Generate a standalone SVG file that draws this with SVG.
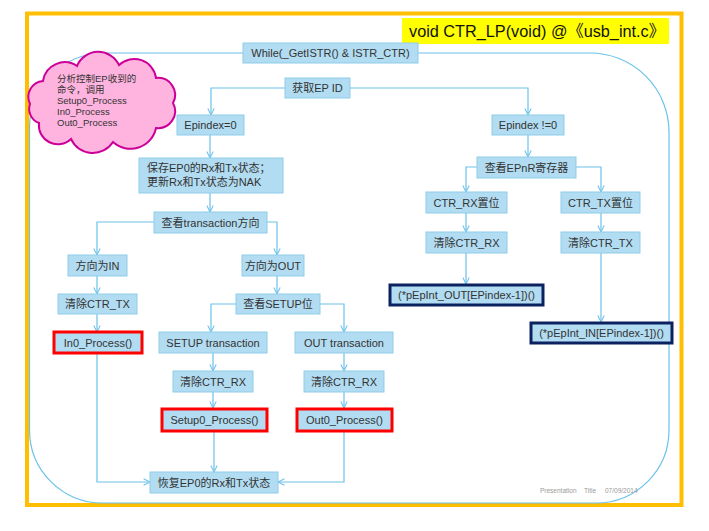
<svg xmlns="http://www.w3.org/2000/svg" width="709" height="531" viewBox="0 0 709 531">
<defs>
<marker id="ah" viewBox="0 0 10 10" refX="9" refY="5" markerWidth="8" markerHeight="8" orient="auto" markerUnits="userSpaceOnUse">
<path d="M1,1 L9,5 L1,9" fill="none" stroke="#6cc2ea" stroke-width="1.3"/>
</marker>
<style>
.b{fill:#b2dcf1;stroke:#8fcdea;stroke-width:1}
.r{fill:#b2dcf1;stroke:#ff0000;stroke-width:3}
.n{fill:#b2dcf1;stroke:#0c2160;stroke-width:3}
.t{font-family:"Liberation Sans","Noto Sans CJK SC",sans-serif;font-size:11px;fill:#333;text-anchor:middle}
.c{fill:none;stroke:#6cc2ea;stroke-width:1.2}
.a{marker-end:url(#ah)}
</style>
</defs>
<rect width="709" height="531" fill="#fff"/>
<rect x="27" y="13.5" width="654.5" height="491.5" fill="none" stroke="#ffbf00" stroke-width="4"/>
<g id="title">
<rect x="402" y="18" width="267" height="26" fill="#ffff00"/>
<text x="409" y="37" font-family="'Liberation Sans','Noto Sans CJK SC',sans-serif" font-size="16.5" fill="#111" textLength="256" lengthAdjust="spacingAndGlyphs">void CTR_LP(void) @《usb_int.c》</text>
</g>
<g id="connectors">
<path class="c" d="M243,53 H104 A75,75 0 0 0 29.5,128 V430 A73,73 0 0 0 102.5,503 H596 A73,73 0 0 0 669,430 V132 A79,79 0 0 0 590,53 H418"/>
<path class="c a" d="M285,88 H211 V115"/>
<path class="c a" d="M350,88 H528 V115"/>
<path class="c a" d="M210,135 V158"/>
<path class="c a" d="M210,193 V212"/>
<path class="c a" d="M154,222 H97 V255"/>
<path class="c a" d="M267,222 H277 V255"/>
<path class="c a" d="M97,276 V294"/>
<path class="c a" d="M277,276 V294"/>
<path class="c a" d="M97,314 V332"/>
<path class="c a" d="M236,304 H211 V332"/>
<path class="c a" d="M320,304 H344 V332"/>
<path class="c a" d="M213,353 V371"/>
<path class="c a" d="M344,353 V371"/>
<path class="c a" d="M213,392 V408"/>
<path class="c a" d="M344,392 V408"/>
<path class="c a" d="M97,353 V482 H150"/>
<path class="c a" d="M214,432 V472"/>
<path class="c a" d="M344,432 V482 H278"/>
<path class="c a" d="M528,135 V157"/>
<path class="c a" d="M477,167 H466 V192"/>
<path class="c a" d="M576,167 H601 V192"/>
<path class="c a" d="M466,213 V232"/>
<path class="c a" d="M601,213 V232"/>
<path class="c a" d="M466,253 V284"/>
<path class="c a" d="M601,253 V322"/>
</g>
<g id="cloud">
<path d="M30,104 A16,16 0 0 1 43,81 A22,22 0 0 1 77,66 A23,23 0 0 1 119,65 A22,22 0 0 1 156,78 A17,17 0 0 1 173,103 A17,17 0 0 1 156,128 A26,26 0 0 1 113,142 A24,24 0 0 1 71,139 A19,19 0 0 1 39,123 A15,15 0 0 1 30,104 Z" fill="#ffb4df" stroke="#cc0099" stroke-width="2"/>
<g font-family="'Liberation Sans','Noto Sans CJK SC',sans-serif" font-size="9.5" fill="#333">
<text x="57" y="82">分析控制EP收到的</text>
<text x="57" y="93">命令，调用</text>
<text x="57" y="104">Setup0_Process</text>
<text x="57" y="115">In0_Process</text>
<text x="57" y="126">Out0_Process</text>
</g>
</g>
<g id="while"><rect class="b" x="243" y="43" width="175" height="20"/><text class="t" x="330.5" y="57">While(_GetISTR() &amp; ISTR_CTR)</text></g>
<g id="getep"><rect class="b" x="285" y="78" width="65" height="20"/><text class="t" x="317.5" y="92">获取EP ID</text></g>
<g id="ep0"><rect class="b" x="177" y="115" width="67" height="20"/><text class="t" x="210.5" y="129">Epindex=0</text></g>
<g id="epn"><rect class="b" x="492" y="115" width="72" height="20"/><text class="t" x="528" y="129">Epindex !=0</text></g>
<g id="save"><rect class="b" x="139" y="158" width="144" height="35"/><text class="t" x="147" y="172" style="text-anchor:start">保存EP0的Rx和Tx状态；</text><text class="t" x="147" y="186" style="text-anchor:start">更新Rx和Tx状态为NAK</text></g>
<g id="dir"><rect class="b" x="154" y="212" width="113" height="21"/><text class="t" x="210.5" y="226.5">查看transaction方向</text></g>
<g id="in"><rect class="b" x="68" y="255" width="59" height="21"/><text class="t" x="97.5" y="269.5">方向为IN</text></g>
<g id="out"><rect class="b" x="242" y="255" width="62" height="21"/><text class="t" x="273" y="269.5">方向为OUT</text></g>
<g id="clrtx0"><rect class="b" x="58" y="294" width="79" height="20"/><text class="t" x="97.5" y="308">清除CTR_TX</text></g>
<g id="setupbit"><rect class="b" x="236" y="294" width="84" height="20"/><text class="t" x="278" y="308">查看SETUP位</text></g>
<g id="in0"><rect class="r" x="54" y="332" width="88" height="21"/><text class="t" x="98" y="346.5">In0_Process()</text></g>
<g id="setuptr"><rect class="b" x="159" y="332" width="108" height="21"/><text class="t" x="213" y="346.5">SETUP transaction</text></g>
<g id="outtr"><rect class="b" x="295" y="332" width="98" height="21"/><text class="t" x="344" y="346.5">OUT transaction</text></g>
<g id="clrrx1"><rect class="b" x="173" y="371" width="80" height="21"/><text class="t" x="213" y="385.5">清除CTR_RX</text></g>
<g id="clrrx2"><rect class="b" x="304" y="371" width="80" height="21"/><text class="t" x="344" y="385.5">清除CTR_RX</text></g>
<g id="setup0"><rect class="r" x="162" y="409" width="105" height="22"/><text class="t" x="214.5" y="424">Setup0_Process()</text></g>
<g id="out0"><rect class="r" x="297" y="409" width="95" height="22"/><text class="t" x="344.5" y="424">Out0_Process()</text></g>
<g id="restore"><rect class="b" x="150" y="472" width="128" height="21"/><text class="t" x="214" y="486.5">恢复EP0的Rx和Tx状态</text></g>
<g id="epnr"><rect class="b" x="477" y="157" width="99" height="21"/><text class="t" x="526.5" y="171.5">查看EPnR寄存器</text></g>
<g id="rxset"><rect class="b" x="426" y="192" width="81" height="21"/><text class="t" x="466.5" y="206.5">CTR_RX置位</text></g>
<g id="txset"><rect class="b" x="561" y="192" width="79" height="21"/><text class="t" x="600.5" y="206.5">CTR_TX置位</text></g>
<g id="clrrx3"><rect class="b" x="426" y="232" width="81" height="21"/><text class="t" x="466.5" y="246.5">清除CTR_RX</text></g>
<g id="clrtx3"><rect class="b" x="561" y="232" width="79" height="21"/><text class="t" x="600.5" y="246.5">清除CTR_TX</text></g>
<g id="epout"><rect class="n" x="390" y="285" width="153" height="20"/><text class="t" x="466.5" y="299">(*pEpInt_OUT[EPindex-1])()</text></g>
<g id="epin"><rect class="n" x="531" y="323" width="141" height="20"/><text class="t" x="601.5" y="337">(*pEpInt_IN[EPindex-1])()</text></g>
<g font-family="'Liberation Sans',sans-serif" font-size="6.5" fill="#999">
<text x="540" y="493">Presentation</text>
<text x="584" y="493">Title</text>
<text x="605" y="493">07/09/2014</text>
</g>
</svg>
